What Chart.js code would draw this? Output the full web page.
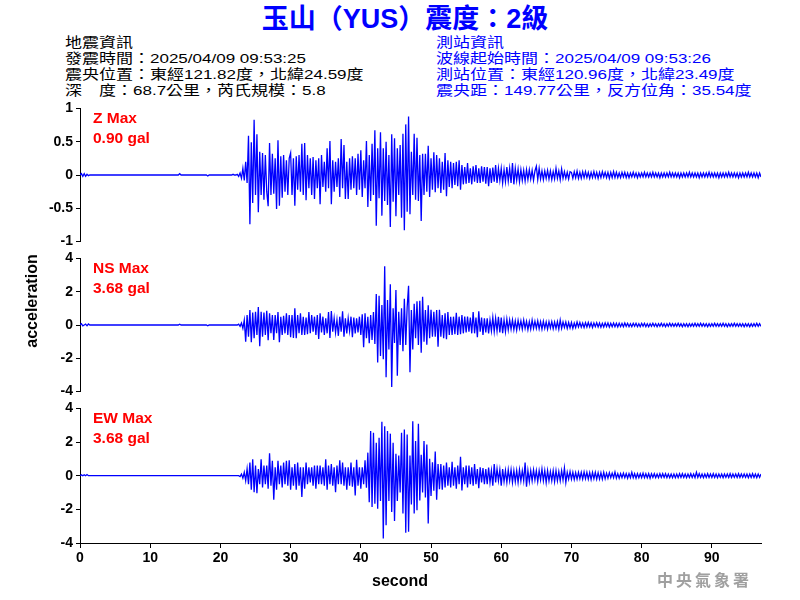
<!DOCTYPE html>
<html><head><meta charset="utf-8">
<script src="https://cdn.jsdelivr.net/npm/chart.js@4.4.1/dist/chart.umd.min.js"></script>
<style>
html,body{margin:0;padding:0;background:#fff;}
#wrap{position:relative;width:800px;height:600px;overflow:hidden;background:#fff;font-family:"Liberation Sans",Arial,"Noto Sans CJK TC",sans-serif;}
canvas{position:absolute;left:0;}
.t{position:absolute;white-space:nowrap;}
#title{left:0;width:810px;text-align:center;top:6px;font-size:27px;line-height:26px;font-weight:bold;color:#0000ff;}
.info{top:35px;font-size:17px;line-height:20px;transform:scaleY(0.8);transform-origin:0 0;}
#infoL{left:65px;color:#000;}
#infoR{left:436px;color:#0000ff;}
.red{left:93px;font-size:15.5px;line-height:20px;font-weight:bold;color:#ff0000;}
#ylab{left:-68px;width:200px;top:293px;text-align:center;font-size:16px;line-height:16px;font-weight:bold;color:#000;transform:rotate(-90deg);transform-origin:100px 8px;}
#xlab{left:0;width:800px;text-align:center;top:573px;font-size:16px;line-height:16px;font-weight:bold;color:#000;}
#foot{left:657px;top:571px;font-family:"Noto Sans CJK TC",sans-serif;font-size:16px;line-height:16px;font-weight:bold;letter-spacing:3px;color:#a0a0a0;}
</style></head>
<body>
<div id="wrap">
<div class="t" id="title">玉山（YUS）震度：2級</div>
<div class="t info" id="infoL">地震資訊<br>發震時間：2025/04/09 09:53:25<br>震央位置：東經121.82度，北緯24.59度<br>深　度：68.7公里，芮氏規模：5.8</div>
<div class="t info" id="infoR">測站資訊<br>波線起始時間：2025/04/09 09:53:26<br>測站位置：東經120.96度，北緯23.49度<br>震央距：149.77公里，反方位角：35.54度</div>
<canvas id="c1" width="800" height="156" style="top:97px"></canvas>
<canvas id="c2" width="800" height="156" style="top:247px"></canvas>
<canvas id="c3" width="800" height="203" style="top:397px"></canvas>
<div class="t red" style="top:108px">Z Max<br>0.90 gal</div>
<div class="t red" style="top:258px">NS Max<br>3.68 gal</div>
<div class="t red" style="top:408px">EW Max<br>3.68 gal</div>
<div class="t" id="ylab">acceleration</div>
<div class="t" id="xlab">second</div>
<div class="t" id="foot">中央氣象署</div>
</div>
<script>
// sampling: each row = 5 seconds, 0.2 s per value
const sampleStep = 0.2;
const rowSeconds = 5;
const xMax = 97;
const xTicks = [0,10,20,30,40,50,60,70,80,90];
const zTicks = [-1,-0.5,0,0.5,1];
const hTicks = [-4,-2,0,2,4];

const zRows = [
[0,0.02,-0.02,0.02,-0.02, 0.01,-0.01,0,0,0, 0,0,0,0,0, 0,0,0,0,0, 0,0,0,0,0],
[0,0,0,0,0, 0,0,0,0,0, 0,0,0,0,0, 0,0,0,0,0, 0,0,0,0,0],
[0,0,0,0,0, 0,0,0,0,0, 0,0,0,0,0, 0,0,0,0,0, 0,0.02,0,0,0],
[0,0,0,0,0, 0,0,0,0,0, 0,0,0,0,0, 0,-0.015,0,0,0, 0,0,0,0,0],
[0,0,0,0,0, 0,0,0,0,0.01, 0,0,0.01,-0.02,0.03, -0.05,0.1,-0.08,0.2,-0.12, 0.59,-0.74,0.49,-0.42,0.83],
[-0.3,0.61,-0.56,0.35,-0.3, 0.33,-0.37,0.3,-0.25,-0.47, 0.48,-0.3,0.32,-0.28,0.25, -0.51,0.52,-0.46,0.28,-0.34, 0.3,-0.25,0.22,-0.3,0.25],
[0.33,-0.3,0.25,-0.46,0.28, -0.22,0.3,-0.25,0.47,-0.3, 0.48,-0.38,0.3,-0.2,0.25, -0.3,0.27,-0.36,0.22,-0.2, 0.25,-0.44,0.3,-0.18,0.2],
[-0.25,0.4,-0.2,0.51,-0.44, 0.22,-0.25,0.2,-0.18,0.25, -0.33,0.54,-0.2,0.45,-0.36, 0.2,-0.36,0.25,-0.22,0.28, -0.2,0.25,-0.3,0.32,-0.22],
[0.37,-0.33,0.22,-0.2,0.51, -0.48,0.3,-0.39,0.47,-0.3, 0.67,-0.76,0.4,-0.35,0.64, -0.61,0.4,-0.39,0.5,-0.45, 0.3,-0.78,0.61,-0.4,0.55],
[-0.62,0.4,-0.3,0.45,-0.64, 0.62,-0.83,0.76,-0.55,0.88, -0.59,0.35,-0.3,0.62,-0.37, 0.56,-0.39,0.3,-0.69,0.32, -0.3,0.32,-0.25,0.44,-0.33],
[0.25,-0.22,0.34,-0.26,0.3, -0.2,0.25,-0.27,0.2,-0.22, 0.33,-0.32,0.22,-0.18,0.2, -0.2,0.18,-0.15,0.2,-0.17, 0.22,-0.22,0.15,-0.14,0.12],
[-0.13,0.18,-0.12,0.1,-0.14, 0.13,-0.1,0.15,-0.12,0.1, -0.12,0.13,-0.1,0.12,-0.13, 0.12,-0.17,0.1,-0.12,0.11, -0.1,0.15,-0.12,0.1,-0.08],
[0.1,-0.12,0.08,-0.1,0.12, -0.09,0.1,-0.12,0.18,-0.14, 0.1,-0.08,0.09,-0.1,0.08, -0.08,0.07,-0.09,0.08,-0.07, 0.08,-0.06,0.07,-0.08,0.06],
[0.13,-0.07,0.1,-0.06,0.06, -0.07,0.06,-0.05,0.07,-0.06, 0.06,-0.07,0.05,-0.06,0.1, -0.05,0.06,-0.07,0.09,-0.05, 0.05,-0.05,0.04,-0.06,0.05],
[0.04,-0.05,0.05,-0.04,0.06, -0.05,0.04,-0.05,0.05,-0.04, 0.05,-0.04,0.04,-0.05,0.04, -0.04,0.05,-0.04,0.04,-0.05, 0.04,-0.04,0.05,-0.03,0.04],
[-0.04,0.04,-0.05,0.04,-0.04, 0.05,-0.04,0.04,-0.04,0.03, -0.04,0.04,-0.03,0.04,-0.04, 0.03,-0.04,0.03,-0.03,0.04, -0.03,0.03,-0.04,0.03,-0.03],
[0.03,-0.03,0.04,-0.03,0.03, -0.03,0.03,-0.03,0.04,-0.03, 0.03,-0.03,0.03,-0.04,0.03, -0.03,0.03,-0.03,0.03,-0.03, 0.04,-0.03,0.03,-0.03,0.03],
[-0.03,0.03,-0.04,0.03,-0.03, 0.03,-0.03,0.03,-0.03,0.04, -0.03,0.03,-0.03,0.03,-0.03, 0.03,-0.04,0.03,-0.03,0.03, -0.03,0.03,-0.03,0.04,-0.03],
[0.03,-0.03,0.03,-0.03,0.03, -0.04,0.03,-0.03,0.03,-0.03, 0.03,-0.03,0.04,-0.03,0.03, -0.03,0.03,-0.03,0.03,-0.04, 0.03,-0.03,0.03,-0.03,0.03],
[-0.03,0.04,-0.03,0.03,-0.03, 0.03,-0.03,0.03,-0.04,0.03, -0.03]
];

const nsRows = [
[0,0.08,-0.05,0,0.05, -0.05,0.06,0,0,0, 0,0,0,0,0, 0,0,0,0,0, 0,0,0,0,0],
[0,0,0,0,0, 0,0,0,0,0, 0,0,0,0,0, 0,0,0,0,0, 0,0,0,0,0],
[0,0,0,0,0, 0,0,0,0,0, 0,0,0,0,0, 0,0,0,0,0, 0,0.05,0,0,0],
[0,0,0,0,0, 0,0,0,0,0, 0,0,0,0,0, 0,-0.05,0,0,0, 0,0,0,0,0],
[0,0,0,0,0, 0,0,0,0,0, 0,0,0,0.05,-0.08, 0.12,-0.2,0.3,-1.0,0.6, -0.7,0.9,-1.04,0.75,-0.8],
[0.8,-0.6,1.08,-1.27,0.8, -0.7,0.75,-0.6,0.85,-0.92, 0.7,-0.5,0.6,-0.9,0.6, -0.5,0.78,-1.04,0.5,-0.6, 0.55,-0.5,0.7,-0.6,0.6],
[-0.73,0.6,-0.78,1.0,-0.8, 0.6,-0.5,0.7,-0.6,0.5, -0.6,0.45,-0.55,0.78,-0.5, 0.6,-0.4,0.5,-0.6,0.6, -0.84,0.7,-0.45,0.5,-0.6],
[0.4,-0.5,0.78,-0.78,0.84, -0.4,0.4,-0.45,0.3,-0.65, 0.5,-0.4,0.82,-0.7,0.4, -0.5,0.4,-0.35,0.5,-0.73, 0.45,-0.5,0.4,-0.45,0.5],
[-0.6,0.65,-1.33,0.7,-0.8, 0.5,-1.1,0.6,-0.9,0.78, -1.14,1.86,-2.25,1.76,-1.86, 1.2,-2.06,3.53,-3.14,1.5, -1.47,2.45,-3.73,1.0,-1.08],
[2.1,-3.04,0.8,-1.2,1.0, -1.57,1.57,-1.2,1.08,2.35, -2.84,0.9,-1.47,1.27,-0.8, 1.43,-1.2,1.45,-1.67,1.7, -1.0,0.9,-1.18,1.18,-0.8],
[0.92,-0.7,0.8,-0.7,0.9, -1.31,0.92,-0.7,0.6,-0.8, 0.7,-0.85,0.78,-0.6,0.5, -0.6,0.5,-0.55,0.74,-0.6, 0.5,-0.55,0.6,-0.5,0.5],
[-0.45,0.5,-0.4,0.45,-0.5, 0.78,-0.5,0.45,-0.73,0.82, -0.4,0.45,-0.6,0.4,-0.45, 0.4,-0.5,0.3,-0.35,0.45, -0.4,0.4,-0.35,0.49,-0.45],
[0.45,-0.49,0.3,-0.4,0.35, -0.3,0.3,-0.25,0.3,-0.28, 0.25,-0.3,0.28,-0.2,0.25, -0.25,0.3,-0.2,0.22,-0.28, 0.2,-0.25,0.3,-0.2,0.22],
[-0.2,0.25,-0.22,0.2,-0.25, 0.22,-0.2,0.18,-0.25,0.2, -0.18,0.2,-0.22,0.18,-0.2, 0.2,-0.25,0.3,-0.2,0.18, -0.15,0.18,-0.2,0.15,-0.18],
[0.15,-0.2,0.12,-0.15,0.18, -0.12,0.15,-0.13,0.12,-0.15, 0.14,-0.12,0.15,-0.12,0.13, -0.15,0.12,-0.1,0.14,-0.12, 0.12,-0.14,0.1,-0.12,0.13],
[-0.1,0.12,-0.13,0.1,-0.1, 0.12,-0.1,0.1,-0.12,0.1, -0.1,0.1,-0.1,0.12,-0.08, 0.1,-0.1,0.08,-0.1,0.1, -0.08,0.1,-0.1,0.08,-0.1],
[0.1,-0.08,0.1,-0.1,0.08, -0.1,0.08,-0.08,0.1,-0.08, 0.08,-0.1,0.08,-0.08,0.1, -0.08,0.08,-0.1,0.08,-0.08, 0.1,-0.08,0.08,-0.08,0.08],
[-0.08,0.1,-0.08,0.08,-0.1, 0.08,-0.08,0.08,-0.1,0.08, -0.08,0.08,-0.08,0.1,-0.08, 0.08,-0.08,0.1,-0.08,0.08, -0.08,0.08,-0.1,0.08,-0.08],
[0.08,-0.08,0.1,-0.08,0.08, -0.08,0.08,-0.08,0.1,-0.08, 0.08,-0.1,0.08,-0.08,0.08, -0.08,0.1,-0.08,0.08,-0.08, 0.08,-0.08,0.08,-0.1,0.08],
[-0.08,0.08,-0.1,0.08,-0.08, 0.08,-0.08,0.1,-0.08,0.08, -0.08]
];

const ewRows = [
[0,0.05,0,0.06,0, 0.07,0,0,0,0, 0,0,0,0,0, 0,0,0,0,0, 0,0,0,0,0],
[0,0,0,0,0, 0,0,0,0,0, 0,0,0,0,0, 0,0,0,0,0, 0,0,0,0,0],
[0,0,0,0,0, 0,0,0,0,0, 0,0,0,0,0, 0,0,0,0,0, 0,0,0,0,0],
[0,0,0,0,0, 0,0,0,0,0, 0,0,0,0,0, 0,0,0,0,0, 0,0,0,0,0],
[0,0,0,0,0, 0,0,0,0,0, 0,0,0,0,-0.05, 0.1,-0.15,0.2,-0.3,0.4, -0.5,0.78,-0.84,0.98,-0.98],
[0.6,-1.04,0.4,-0.5,0.98, -0.7,0.6,-0.5,0.6,-0.78, 1.33,-0.6,0.88,-1.43,0.5, -0.84,0.88,-0.5,0.6,-0.7, 0.78,-0.5,0.88,-0.6,0.92],
[-0.84,0.5,-0.6,0.7,-0.84, 0.78,-0.6,0.5,-1.27,0.5, -0.78,0.78,-0.5,0.5,-0.4, 0.5,-0.6,0.6,-0.78,0.6, -0.5,0.6,-0.5,0.5,-0.6],
[0.98,-0.84,0.6,-0.5,0.7, -0.6,0.5,-0.98,0.6,-0.5, 0.92,-0.5,0.78,-0.6,0.5, -0.84,0.5,-0.6,0.78,-0.65, 0.5,-1.18,0.94,-0.6,0.5],
[-0.78,0.5,-0.5,0.92,-0.72, 1.37,-1.57,2.65,-1.86,2.55, -1.67,1.96,-1.96,2.25,-1.5, 3.2,-3.73,2.94,-2.94,2.65, -1.5,2.5,-2.16,1.96,-2.69],
[1.3,-1.5,1.2,-1.0,2.55, -2.25,2.75,-3.39,2.45,-3.33, 1.2,-1.71,3.24,-2.25,2.06, -2.06,3.08,-1.47,1.24,-1.0, 2.06,-1.3,1.86,-2.84,1.0],
[-1.2,0.8,-0.9,1.43,-1.43, 0.7,-0.8,0.7,-0.84,0.6, -0.7,0.78,-0.6,0.5,-0.7, 0.82,-0.6,0.5,-0.78,0.6, -0.5,1.12,-0.88,0.5,-0.5],
[0.6,-0.7,0.6,-0.5,0.5, -0.6,0.7,-0.5,0.4,-0.74, 0.5,-0.4,0.45,-0.5,0.4, -0.5,0.49,-0.4,0.3,-0.59, 0.69,-0.4,0.4,-0.3,0.35],
[-0.59,0.4,-0.35,0.3,-0.4, 0.35,-0.3,0.35,-0.4,0.3, -0.35,0.3,-0.4,0.35,-0.3, 0.3,-0.3,0.78,-0.65,0.3, -0.35,0.3,-0.3,0.35,-0.25],
[0.3,-0.35,0.3,-0.25,0.4, -0.3,0.3,-0.4,0.3,-0.3, 0.25,-0.3,0.3,-0.35,0.3, -0.3,0.25,-0.3,0.3,-0.25, 0.45,-0.4,0.2,-0.2,0.25],
[-0.2,0.2,-0.22,0.18,-0.2, 0.2,-0.18,0.2,-0.2,0.22, -0.18,0.2,-0.2,0.18,-0.22, 0.2,-0.18,0.2,-0.2,0.18, -0.2,0.18,-0.2,0.2,-0.18],
[0.15,-0.15,0.18,-0.12,0.15, -0.12,0.22,-0.15,0.12,-0.15, 0.12,-0.12,0.15,-0.12,0.12, -0.15,0.12,-0.12,0.2,-0.12, 0.12,-0.15,0.12,-0.12,0.12],
[-0.12,0.15,-0.12,0.12,-0.12, 0.12,-0.15,0.12,-0.1,0.12, -0.12,0.1,-0.12,0.12,-0.1, 0.12,-0.1,0.12,-0.12,0.1, -0.12,0.1,-0.12,0.1,-0.12],
[0.1,-0.12,0.12,-0.1,0.12, -0.1,0.1,-0.12,0.1,-0.1, 0.12,-0.1,0.1,-0.12,0.2, -0.1,0.12,-0.1,0.1,-0.12, 0.1,-0.1,0.12,-0.1,0.1],
[-0.1,0.12,-0.1,0.1,-0.12, 0.1,-0.1,0.1,-0.12,0.1, -0.1,0.1,-0.1,0.12,-0.1, 0.1,-0.1,0.1,-0.1,0.12, -0.1,0.1,-0.1,0.1,-0.1],
[0.1,-0.12,0.1,-0.1,0.12, -0.1,0.1,-0.12,0.1,-0.1, 0.1]
];

function toPoints(rows){
  const pts = [];
  rows.forEach((row, r) => row.forEach((v, j) => {
    pts.push({x: +(r*rowSeconds + j*sampleStep).toFixed(2), y: v});
  }));
  return pts;
}

const tickFont = {family: "'Liberation Sans', Arial, sans-serif", size: 14, weight: 'bold'};

function makePanel(id, rows, yTicks, showX, padBottom){
  const yMin = yTicks[0], yMax = yTicks[yTicks.length-1];
  const xScale = {
    type: 'linear', min: 0, max: xMax,
    display: showX,
    afterBuildTicks: s => { s.ticks = xTicks.map(v => ({value: v})); },
    ticks: {font: tickFont, color: '#000', padding: 2, maxRotation: 0, autoSkip: false, includeBounds: false},
    grid: {drawOnChartArea: false, drawTicks: true, tickLength: 5, color: '#000'},
    border: {display: true, color: '#000', width: 1}
  };
  if (showX) xScale.afterFit = s => { s.height = 57; };
  new Chart(document.getElementById(id), {
    type: 'line',
    data: {datasets: [{
      data: toPoints(rows),
      borderColor: '#0000ff',
      borderWidth: 1.3,
      pointRadius: 0,
      fill: false,
      tension: 0
    }]},
    options: {
      responsive: false,
      animation: false,
      parsing: false,
      normalized: true,
      events: [],
      layout: {padding: {left: 0, right: 39, top: 10, bottom: padBottom}},
      plugins: {legend: {display: false}, tooltip: {enabled: false}},
      scales: {
        x: xScale,
        y: {
          type: 'linear', min: yMin, max: yMax,
          afterFit: s => { s.width = 80; },
          afterBuildTicks: s => { s.ticks = yTicks.map(v => ({value: v})); },
          ticks: {font: tickFont, color: '#000', padding: 3, callback: v => String(v)},
          grid: {drawOnChartArea: false, drawTicks: true, tickLength: 4, color: '#000'},
          border: {display: true, color: '#000', width: 1}
        }
      }
    }
  });
}

makePanel('c1', zRows, zTicks, false, 10);
makePanel('c2', nsRows, hTicks, false, 10);
makePanel('c3', ewRows, hTicks, true, 0);
</script>
</body></html>
